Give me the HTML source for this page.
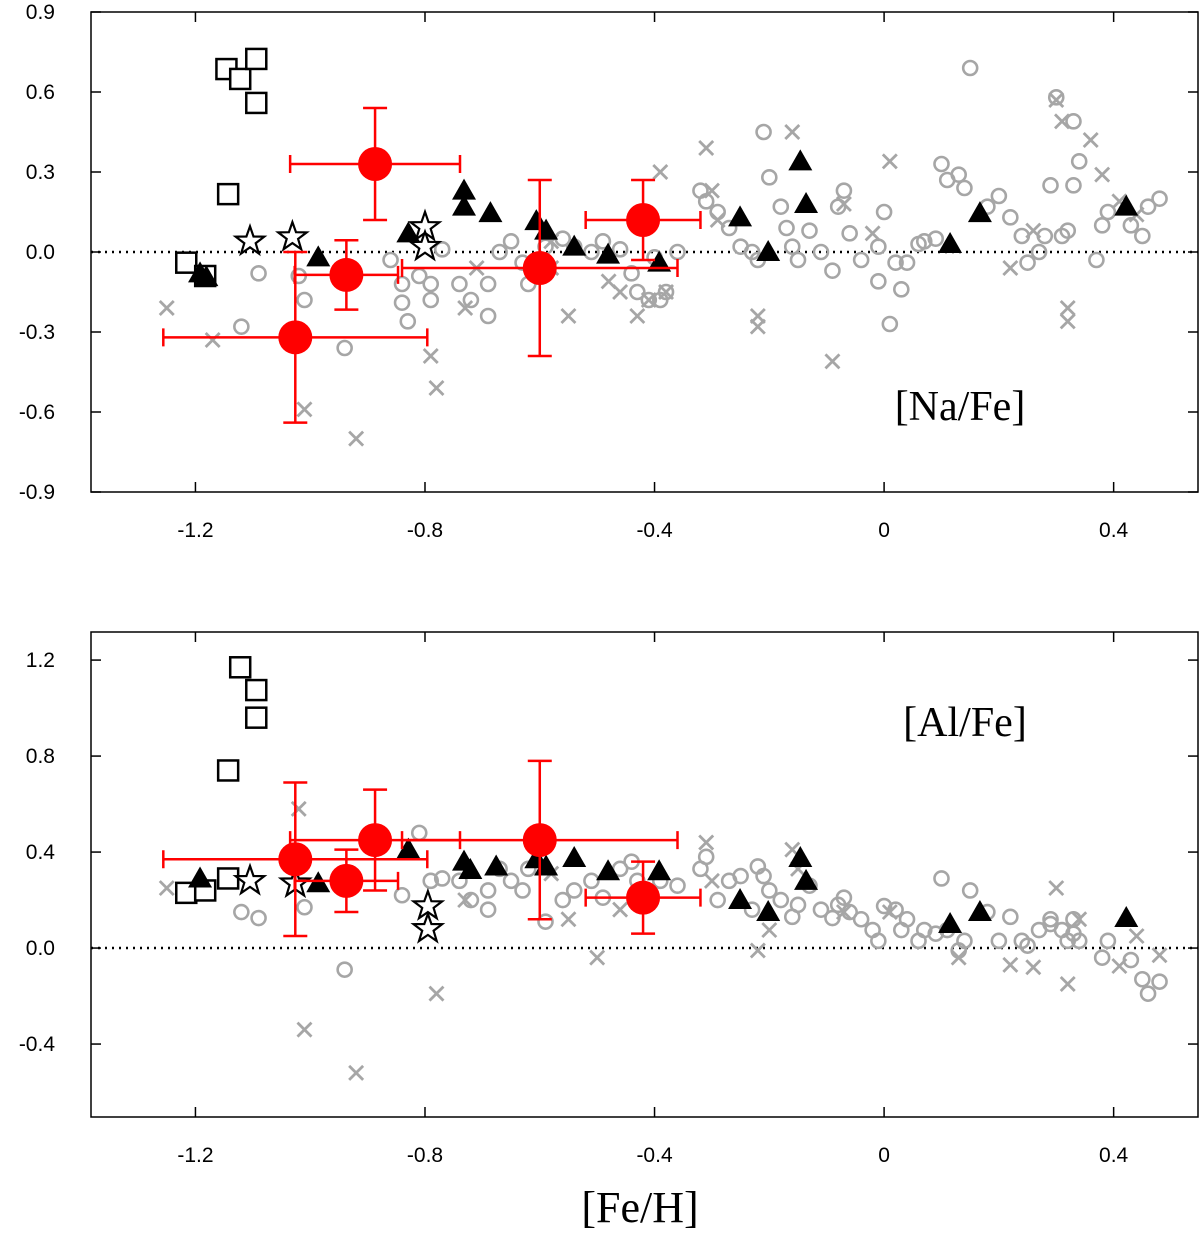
<!DOCTYPE html>
<html><head><meta charset="utf-8">
<style>
html,body{margin:0;padding:0;background:#fff;}
svg{display:block;}
text{font-family:"Liberation Sans",sans-serif;}
</style></head>
<body>
<svg id="chart" width="1200" height="1235" viewBox="0 0 1200 1235" xmlns="http://www.w3.org/2000/svg"></svg>
<script>
// ---------- shared x ticks ----------
const xTicks = [-1.2, -0.8, -0.4, 0, 0.4];
const xTickLabels = ["-1.2", "-0.8", "-0.4", "0", "0.4"];

// ---------- top panel [Na/Fe] ----------
const naTicks = [0.9, 0.6, 0.3, 0.0, -0.3, -0.6, -0.9];
const naTickLabels = ["0.9", "0.6", "0.3", "0.0", "-0.3", "-0.6", "-0.9"];
const naRedX = [-0.887, -0.937, -1.026, -0.6, -0.42];
const naRedY = [0.33, -0.086, -0.32, -0.06, 0.12];
const naRedXErr = [0.148, 0.09, 0.23, 0.24, 0.1];
const naRedYErr = [0.21, 0.13, 0.32, 0.33, 0.15];
const naTriX = [-1.192, -1.181, -0.986, -0.829, -0.732, -0.732, -0.686, -0.606, -0.589, -0.54, -0.481, -0.392, -0.251, -0.202, -0.146, -0.136, 0.115, 0.167, 0.422];
const naTriY = [-0.08, -0.094, -0.02, 0.07, 0.23, 0.17, 0.146, 0.116, 0.08, 0.02, -0.01, -0.04, 0.13, 0.0, 0.34, 0.18, 0.03, 0.146, 0.17];
const naSqX = [-1.146, -1.122, -1.094, -1.094, -1.143, -1.216, -1.183];
const naSqY = [0.686, 0.649, 0.724, 0.559, 0.217, -0.04, -0.09];
const naStarX = [-1.105, -1.031, -0.8, -0.8];
const naStarY = [0.04, 0.056, 0.094, 0.02];
const naCircX = [-1.12,-1.09,-1.02,-1.01,-0.94,-0.86,-0.84,-0.84,-0.81,-0.79,-0.79,-0.83,-0.77,-0.74,-0.72,-0.69,-0.69,-0.67,-0.65,-0.63,-0.62,-0.59,-0.56,-0.54,-0.51,-0.49,-0.46,-0.44,-0.43,-0.41,-0.40,-0.39,-0.38,-0.36,-0.32,-0.31,-0.29,-0.27,-0.25,-0.23,-0.22,-0.21,-0.2,-0.18,-0.17,-0.16,-0.15,-0.13,-0.11,-0.09,-0.08,-0.07,-0.06,-0.04,-0.01,-0.01,0,0.02,0.03,0.04,0.06,0.07,0.09,0.1,0.11,0.13,0.14,0.15,0.18,0.2,0.22,0.24,0.25,0.27,0.28,0.29,0.3,0.31,0.32,0.33,0.33,0.34,0.37,0.38,0.39,0.43,0.45,0.46,0.48,0.01];
const naCircY = [-0.28,-0.08,-0.09,-0.18,-0.36,-0.03,-0.12,-0.19,-0.09,-0.12,-0.18,-0.26,0.01,-0.12,-0.18,-0.24,-0.12,0,0.04,-0.04,-0.12,0.02,0.05,0.02,0,0.04,0.01,-0.08,-0.15,-0.18,-0.02,-0.18,-0.15,0,0.23,0.19,0.15,0.09,0.02,0,-0.03,0.45,0.28,0.17,0.09,0.02,-0.03,0.08,0,-0.07,0.17,0.23,0.07,-0.03,-0.11,0.02,0.15,-0.04,-0.14,-0.04,0.03,0.04,0.05,0.33,0.27,0.29,0.24,0.69,0.17,0.21,0.13,0.06,-0.04,0,0.06,0.25,0.58,0.06,0.08,0.49,0.25,0.34,-0.03,0.1,0.15,0.1,0.06,0.17,0.2,-0.27];
const naCrossX = [-1.25,-1.17,-1.01,-0.92,-0.79,-0.78,-0.73,-0.71,-0.58,-0.58,-0.55,-0.48,-0.46,-0.43,-0.41,-0.39,-0.38,-0.31,-0.3,-0.29,-0.22,-0.22,-0.16,-0.09,-0.07,-0.02,0.01,0.22,0.26,0.3,0.31,0.32,0.32,0.36,0.38,0.41,0.44];
const naCrossY = [-0.21,-0.33,-0.59,-0.7,-0.39,-0.51,-0.21,-0.06,0.04,-0.06,-0.24,-0.11,-0.15,-0.24,-0.18,0.3,-0.15,0.39,0.23,0.12,-0.24,-0.28,0.45,-0.41,0.18,0.07,0.34,-0.06,0.08,0.57,0.49,-0.21,-0.26,0.42,0.29,0.19,0.14];

// ---------- bottom panel [Al/Fe] ----------
const alTicks = [1.2, 0.8, 0.4, 0.0, -0.4];
const alTickLabels = ["1.2", "0.8", "0.4", "0.0", "-0.4"];
const alRedX = [-1.026, -0.937, -0.887, -0.6, -0.42];
const alRedY = [0.37, 0.28, 0.45, 0.45, 0.21];
const alRedXErr = [0.23, 0.09, 0.148, 0.24, 0.1];
const alRedYErr = [0.32, 0.13, 0.21, 0.33, 0.15];
const alTriX = [-1.192, -0.986, -0.829, -0.732, -0.721, -0.676, -0.606, -0.589, -0.54, -0.481, -0.392, -0.251, -0.202, -0.146, -0.136, 0.115, 0.167, 0.422];
const alTriY = [0.29, 0.27, 0.41, 0.36, 0.325, 0.34, 0.37, 0.34, 0.375, 0.32, 0.32, 0.2, 0.15, 0.375, 0.28, 0.1, 0.15, 0.125];
const alSqX = [-1.122, -1.094, -1.094, -1.143, -1.143, -1.216, -1.183];
const alSqY = [1.17, 1.075, 0.96, 0.74, 0.29, 0.23, 0.24];
const alStarX = [-1.105, -1.026, -0.795, -0.795];
const alStarY = [0.28, 0.27, 0.175, 0.08];
const alCircX = [-1.12,-1.09,-1.01,-0.94,-0.84,-0.81,-0.79,-0.77,-0.74,-0.72,-0.69,-0.69,-0.67,-0.65,-0.63,-0.62,-0.59,-0.56,-0.54,-0.51,-0.49,-0.46,-0.44,-0.43,-0.39,-0.36,-0.32,-0.31,-0.29,-0.27,-0.25,-0.23,-0.22,-0.21,-0.2,-0.18,-0.16,-0.15,-0.13,-0.11,-0.09,-0.08,-0.07,-0.06,-0.04,-0.02,-0.01,0,0.02,0.03,0.04,0.06,0.07,0.09,0.1,0.11,0.13,0.14,0.15,0.18,0.2,0.22,0.24,0.25,0.27,0.29,0.31,0.32,0.33,0.34,0.38,0.39,0.43,0.45,0.46,0.48,0.29,0.33];
const alCircY = [0.15,0.125,0.17,-0.09,0.22,0.48,0.28,0.29,0.28,0.2,0.16,0.24,0.33,0.28,0.24,0.33,0.11,0.2,0.24,0.28,0.21,0.33,0.36,0.28,0.28,0.26,0.33,0.38,0.2,0.28,0.3,0.16,0.34,0.3,0.24,0.2,0.13,0.18,0.26,0.16,0.125,0.18,0.21,0.15,0.12,0.075,0.03,0.175,0.16,0.075,0.12,0.03,0.075,0.06,0.29,0.075,-0.01,0.03,0.24,0.15,0.03,0.13,0.03,0.01,0.075,0.12,0.075,0.03,0.12,0.03,-0.04,0.03,-0.05,-0.13,-0.19,-0.14,0.1,0.06];
const alCrossX = [-1.25,-1.02,-1.01,-0.92,-0.78,-0.73,-0.58,-0.55,-0.5,-0.46,-0.31,-0.3,-0.22,-0.2,-0.16,-0.15,-0.07,0.01,0.13,0.22,0.26,0.3,0.32,0.34,0.44,0.48,0.41];
const alCrossY = [0.25,0.58,-0.34,-0.52,-0.19,0.2,0.31,0.12,-0.04,0.16,0.44,0.28,-0.01,0.075,0.41,0.33,0.15,0.15,-0.04,-0.07,-0.08,0.25,-0.15,0.12,0.05,-0.03,-0.075];

const NS = "http://www.w3.org/2000/svg";
const svg = document.getElementById("chart");
function mk(tag, attrs, parent) {
  const e = document.createElementNS(NS, tag);
  for (const k in attrs) e.setAttribute(k, attrs[k]);
  (parent || svg).appendChild(e);
  return e;
}
const X0 = 91, X1 = 1198, XMIN = -1.382, XMAX = 0.547;
function xs(v) { return X0 + (v - XMIN) / (XMAX - XMIN) * (X1 - X0); }

function panel(name, top, bottom, ymin, ymax, ticks, tickLabels, d) {
  const ys = v => bottom - (v - ymin) / (ymax - ymin) * (bottom - top);
  const g = mk("g", {});
  
  
  const z = mk("line", {x1: X0, x2: X1, y1: ys(0), y2: ys(0), stroke: "#000", "stroke-width": 2.5, "stroke-dasharray": "2,5"}, g);
  
  
  d.circX.forEach((x, i) => {
    const c = mk("circle", {cx: xs(x), cy: ys(d.circY[i]), r: 7, fill: "none", stroke: "#a6a6a6", "stroke-width": 2.6}, g);
    
    
  });
  d.crossX.forEach((x, i) => {
    const cx = xs(x), cy = ys(d.crossY[i]), s = 7;
    const p = mk("path", {d: `M${cx-s},${cy-s}L${cx+s},${cy+s}M${cx-s},${cy+s}L${cx+s},${cy-s}`, stroke: "#a6a6a6", "stroke-width": 2.8, fill: "none"}, g);
    
    
  });
  d.sqX.forEach((x, i) => {
    const r = mk("rect", {x: xs(x) - 10, y: ys(d.sqY[i]) - 10, width: 20, height: 20, fill: "#fff", stroke: "#000", "stroke-width": 2.5}, g);
    
    
  });
  d.starX.forEach((x, i) => {
    const cx = xs(x), cy = ys(d.starY[i]);
    let pts = [];
    for (let k = 0; k < 10; k++) {
      const a = -Math.PI / 2 + k * Math.PI / 5, rr = k % 2 ? 6 : 15;
      pts.push((cx + rr * Math.cos(a)).toFixed(1) + "," + (cy + rr * Math.sin(a)).toFixed(1));
    }
    const s = mk("polygon", {points: pts.join(" "), fill: "#fff", stroke: "#000", "stroke-width": 2.2}, g);
    
    
  });
  d.triX.forEach((x, i) => {
    const cx = xs(x), cy = ys(d.triY[i]);
    const t = mk("polygon", {points: `${cx},${cy-12} ${cx-12},${cy+9} ${cx+12},${cy+9}`, fill: "#000"}, g);
    
    
  });
  d.redX.forEach((x, i) => {
    const cx = xs(x), cy = ys(d.redY[i]);
    const xa = xs(x - d.redXErr[i]), xb = xs(x + d.redXErr[i]);
    const ya = ys(d.redY[i] + d.redYErr[i]), yb = ys(d.redY[i] - d.redYErr[i]);
    const e = mk("path", {d: `M${xa},${cy}H${xb}M${xa},${cy-9}V${cy+9}M${xb},${cy-9}V${cy+9}M${cx},${ya}V${yb}M${cx-12},${ya}H${cx+12}M${cx-12},${yb}H${cx+12}`, stroke: "#f00", "stroke-width": 2.5, fill: "none"}, g);
    
    
    const c = mk("circle", {cx: cx, cy: cy, r: 17, fill: "#f00"}, g);
    
    
  });
  const f = mk("rect", {x: X0, y: top, width: X1 - X0, height: bottom - top, fill: "none", stroke: "#000", "stroke-width": 1.5}, g);
  
  
  ticks.forEach((v, i) => {
    const y = ys(v);
    mk("line", {x1: X0, x2: X0 + 10, y1: y, y2: y, stroke: "#000", "stroke-width": 1.5}, g);
    mk("line", {x1: X1, x2: X1 - 10, y1: y, y2: y, stroke: "#000", "stroke-width": 1.5}, g);
    const t = mk("text", {x: 55, y: y + 7, "text-anchor": "end", "font-size": 21}, g);
    t.textContent = tickLabels[i];
    
    
  });
  xTicks.forEach((v, i) => {
    const x = xs(v);
    mk("line", {x1: x, x2: x, y1: bottom, y2: bottom - 10, stroke: "#000", "stroke-width": 1.5}, g);
    mk("line", {x1: x, x2: x, y1: top, y2: top + 10, stroke: "#000", "stroke-width": 1.5}, g);
    const t = mk("text", {x: x, y: bottom + 45, "text-anchor": "middle", "font-size": 21}, g);
    t.textContent = xTickLabels[i];
    
    
  });
}

panel("na-fe", 12, 492, -0.9, 0.9, naTicks, naTickLabels, {
  redX: naRedX, redY: naRedY, redXErr: naRedXErr, redYErr: naRedYErr,
  triX: naTriX, triY: naTriY, sqX: naSqX, sqY: naSqY, starX: naStarX, starY: naStarY,
  circX: naCircX, circY: naCircY, crossX: naCrossX, crossY: naCrossY});
panel("al-fe", 632, 1117, -0.704, 1.317, alTicks, alTickLabels, {
  redX: alRedX, redY: alRedY, redXErr: alRedXErr, redYErr: alRedYErr,
  triX: alTriX, triY: alTriY, sqX: alSqX, sqY: alSqY, starX: alStarX, starY: alStarY,
  circX: alCircX, circY: alCircY, crossX: alCrossX, crossY: alCrossY});

function label(txt, x, y, size, name) {
  const t = mk("text", {x: x, y: y, "text-anchor": "middle", "font-size": size, style: 'font-family:"Liberation Serif",serif'});
  t.textContent = txt;
  
  
}
label("[Na/Fe]", 960, 420, 42, "na-fe-label");
label("[Al/Fe]", 965, 736, 42, "al-fe-label");
label("[Fe/H]", 640, 1222, 44, "x-axis-title");
</script>
</body></html>
